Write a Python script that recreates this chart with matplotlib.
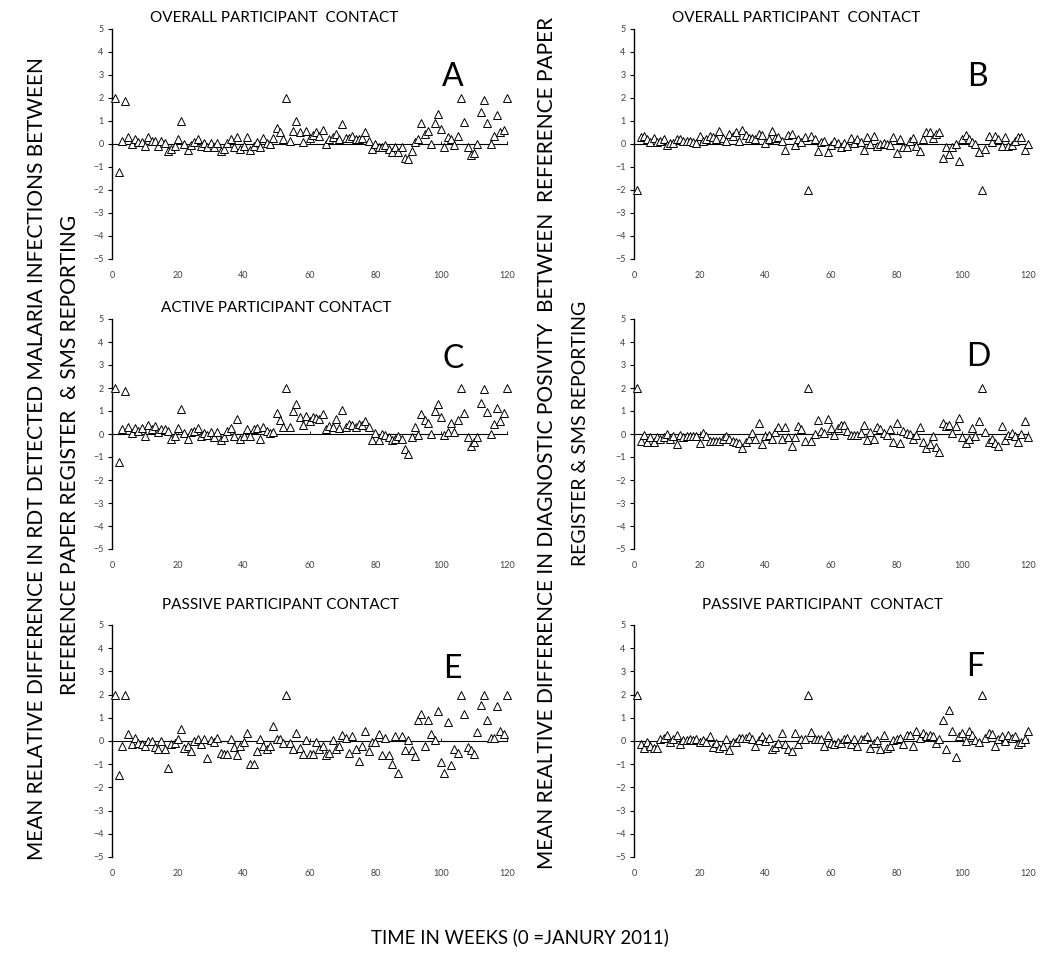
import numpy as np
import matplotlib
matplotlib.use("Agg")
from matplotlib import pyplot as plt

plt.rcParams['font.family'] = ['Lato', 'DejaVu Sans']

W, H = 1041, 964

# week numbers 1..120
# A: RDT detected malaria, overall contact
a_vals = [2.0, -1.2, 0.15, 1.85, 0.3, 0.0, 0.2, 0.1, 0.1, -0.1,
          0.3, 0.15, 0.15, -0.1, 0.15, 0.05, -0.3, -0.2, -0.1, 0.2,
          1.0, 0.0, -0.25, -0.05, 0.1, 0.2, -0.1, 0.05, -0.15, 0.05,
          -0.15, 0.05, -0.3, -0.2, 0.05, 0.2, -0.15, 0.3, -0.2, -0.1,
          0.3, -0.25, -0.1, 0.1, -0.15, 0.25, 0.05, 0.0, 0.25, 0.7,
          0.5, 0.2, 2.0, 0.15, 0.55, 1.0, 0.5, 0.1, 0.55, 0.25,
          0.4, 0.5, 0.35, 0.6, 0.0, 0.2, 0.3, 0.45, 0.2, 0.85,
          0.25, 0.25, 0.35, 0.2, 0.2, 0.25, 0.5, 0.15, -0.2, 0.0,
          -0.15, -0.15, -0.05, -0.2, -0.35, -0.15, -0.35, -0.15, -0.6, -0.65,
          -0.3, 0.1, 0.2, 0.9, 0.45, 0.55, 0.0, 0.9, 1.3, 0.65,
          -0.15, 0.3, 0.2, -0.05, 0.35, 2.0, 0.95, -0.15, -0.5, -0.4,
          0.0, 1.4, 1.9, 0.9, 0.0, 0.35, 1.25, 0.5, 0.6, 2.0]

# B: diagnostic positivity, overall contact
b_vals = [-2.0, 0.3, 0.35, 0.2, 0.1, 0.25, 0.1, 0.15, 0.2, -0.05,
          0.05, 0.05, 0.2, 0.2, 0.15, 0.15, 0.15, 0.1, 0.05, 0.35,
          0.15, 0.2, 0.35, 0.3, 0.2, 0.55, 0.25, 0.15, 0.45, 0.35,
          0.5, 0.15, 0.6, 0.4, 0.25, 0.25, 0.2, 0.45, 0.4, 0.05,
          0.2, 0.55, 0.25, 0.3, 0.15, -0.25, 0.4, 0.45, -0.05, 0.2,
          0.1, 0.3, -2.0, 0.35, 0.2, -0.3, 0.1, 0.15, -0.35, -0.05,
          0.15, 0.05, -0.15, 0.05, -0.1, 0.25, 0.05, 0.2, 0.1, -0.25,
          0.3, 0.0, 0.35, -0.1, 0.0, 0.05, 0.0, -0.05, 0.3, -0.4,
          0.2, -0.15, -0.15, 0.15, 0.25, -0.1, -0.3, 0.2, 0.5, 0.5,
          0.25, 0.45, 0.5, -0.6, -0.15, -0.45, -0.15, 0.0, -0.75, 0.2,
          0.4, 0.2, 0.1, 0.0, -0.35, -2.0, -0.2, 0.35, 0.1, 0.35,
          0.2, -0.1, 0.3, -0.1, -0.05, 0.15, 0.3, 0.3, -0.25, 0.0]

# C: RDT detected malaria, active contact
c_vals = [2.0, -1.2, 0.2, 1.85, 0.3, 0.05, 0.25, 0.15, 0.25, -0.1,
          0.4, 0.2, 0.35, 0.1, 0.2, 0.2, 0.15, -0.2, -0.1, 0.25,
          1.1, 0.05, -0.2, 0.1, 0.15, 0.25, -0.1, 0.05, -0.05, 0.1,
          -0.15, 0.1, -0.25, -0.15, 0.15, 0.25, -0.1, 0.65, -0.2, -0.1,
          0.2, -0.1, 0.2, 0.25, -0.2, 0.3, 0.15, 0.05, 0.1, 0.9,
          0.6, 0.3, 2.0, 0.3, 1.0, 1.3, 0.75, 0.4, 0.8, 0.55,
          0.75, 0.7, 0.65, 0.85, 0.2, 0.35, 0.3, 0.65, 0.25, 1.05,
          0.3, 0.45, 0.4, 0.3, 0.45, 0.4, 0.55, 0.3, -0.25, 0.05,
          -0.25, 0.0, -0.05, -0.15, -0.25, -0.2, -0.1, -0.2, -0.65, -0.85,
          -0.15, 0.3, -0.05, 0.85, 0.6, 0.5, 0.0, 1.0, 1.3, 0.75,
          -0.05, 0.1, 0.5, 0.1, 0.6, 2.0, 0.9, -0.15, -0.5, -0.35,
          -0.15, 1.35, 1.95, 0.95, 0.0, 0.45, 1.15, 0.55, 0.9, 2.0]

# D: diagnostic positivity, active contact
d_vals = [2.0, -0.3, -0.05, -0.35, -0.15, -0.35, -0.15, -0.2, -0.15, 0.0,
          -0.2, -0.1, -0.45, -0.05, -0.15, -0.1, -0.1, -0.1, -0.1, -0.4,
          0.05, -0.1, -0.3, -0.3, -0.3, -0.3, -0.2, -0.1, -0.2, -0.3,
          -0.35, -0.4, -0.6, -0.35, -0.2, 0.05, -0.2, 0.5, -0.45, -0.1,
          -0.05, -0.2, 0.1, 0.3, -0.2, 0.3, -0.15, -0.5, -0.15, 0.35,
          0.2, -0.3, 2.0, -0.3, 0.0, 0.6, 0.15, 0.05, 0.65, 0.25,
          -0.05, 0.25, 0.4, 0.4, 0.15, -0.05, -0.05, -0.05, 0.05, 0.4,
          -0.25, 0.1, -0.2, 0.3, 0.2, 0.05, -0.05, 0.2, -0.35, 0.5,
          -0.4, 0.15, 0.05, 0.0, -0.2, -0.05, 0.3, -0.35, -0.6, -0.45,
          -0.1, -0.55, -0.8, 0.5, 0.35, 0.4, 0.05, 0.35, 0.7, -0.15,
          -0.4, -0.2, 0.25, -0.1, 0.55, 2.0, 0.1, -0.35, -0.2, -0.4,
          -0.5, 0.35, -0.25, -0.05, 0.05, -0.1, -0.35, 0.0, 0.55, -0.15]

# E: RDT detected malaria, passive contact
e_vals = [2.0, -1.45, -0.2, 2.0, 0.3, -0.15, 0.15, -0.1, -0.15, -0.2,
          0.0, 0.0, -0.25, -0.35, 0.0, -0.35, -1.15, -0.15, -0.1, 0.1,
          0.5, -0.3, -0.2, -0.45, 0.0, 0.1, -0.15, 0.1, -0.75, 0.05,
          -0.05, 0.15, -0.5, -0.55, -0.55, 0.1, -0.25, -0.6, -0.2, -0.05,
          0.35, -1.0, -1.0, -0.45, 0.1, -0.2, -0.35, -0.2, 0.65, 0.1,
          0.1, -0.1, 2.0, -0.1, -0.35, 0.35, -0.3, -0.55, 0.05, -0.55,
          -0.55, -0.05, -0.35, -0.2, -0.6, -0.5, 0.05, -0.35, -0.2, 0.25,
          0.15, -0.5, 0.2, -0.35, -0.85, -0.2, 0.45, -0.45, -0.05, -0.05,
          0.3, -0.6, 0.15, -0.6, -1.0, 0.2, -1.4, 0.2, -0.4, 0.05,
          -0.4, -0.65, 0.9, 1.15, -0.2, 0.9, 0.3, 0.05, 1.3, -0.9,
          -1.4, 0.8, -1.05, -0.35, -0.5, 2.0, 1.15, -0.25, -0.4, -0.55,
          0.4, 1.55, 2.0, 0.9, 0.15, 0.15, 1.5, 0.45, 0.3, 2.0]

# F: diagnostic positivity, passive contact
f_vals = [2.0, -0.15, -0.3, -0.05, -0.2, -0.3, -0.3, 0.1, 0.15, 0.25,
          -0.05, 0.1, 0.25, -0.15, 0.05, 0.05, 0.1, 0.05, 0.1, -0.05,
          0.05, -0.05, 0.2, -0.25, -0.1, -0.3, -0.2, 0.1, -0.4, -0.05,
          -0.05, 0.15, 0.15, 0.15, 0.2, 0.1, -0.2, 0.05, 0.2, 0.0,
          0.15, -0.35, -0.25, -0.1, 0.35, -0.15, -0.35, -0.45, 0.35, -0.15,
          0.1, 0.1, 2.0, 0.4, 0.1, 0.1, 0.1, -0.2, 0.25, -0.1,
          -0.15, -0.05, -0.1, 0.1, 0.15, -0.15, 0.1, -0.2, 0.1, 0.1,
          0.2, -0.3, -0.1, 0.05, -0.35, 0.25, -0.3, -0.2, 0.05, 0.1,
          0.15, -0.15, 0.25, 0.25, -0.2, 0.45, 0.15, 0.35, 0.2, 0.25,
          0.2, -0.1, 0.1, 0.9, -0.35, 1.35, 0.45, -0.7, 0.2, 0.35,
          0.0, 0.45, 0.25, 0.05, -0.05, 2.0, 0.15, 0.35, 0.3, -0.2,
          0.1, 0.2, 0.0, 0.25, 0.15, 0.2, -0.15, -0.05, 0.1, 0.45]

panel_letters = ["A", "B", "C", "D", "E", "F"]
panel_titles = ["OVERALL PARTICIPANT  CONTACT", "OVERALL PARTICIPANT  CONTACT",
                "ACTIVE PARTICIPANT CONTACT", "",
                "PASSIVE PARTICIPANT CONTACT", "PASSIVE PARTICIPANT  CONTACT"]
x_ticks = [0, 20, 40, 60, 80, 100, 120]
y_ticks = [5, 4, 3, 2, 1, 0, -1, -2, -3, -4, -5]


def fx(px):
    return px / W


def fy(py):
    return 1 - py / H


fig = plt.figure(figsize=(W / 100, H / 100), dpi=100)
fig.patch.set_facecolor("white")

# pixel boxes: (x_left, x_right, y_top, y_bottom)
boxes = [(112, 507, 29, 259), (634, 1028, 29, 259),
         (112, 507, 319, 549), (634, 1028, 319, 549),
         (112, 507, 625, 857), (634, 1028, 625, 857)]
letter_pos = [(453, 77), (977, 77), (453, 359), (978, 357), (452, 669), (975, 667)]
title_pos = [(274, 18), (796, 18), (276, 308), (0, 0), (281, 605), (822, 605)]

series = [a_vals, b_vals, c_vals, d_vals, e_vals, f_vals]

for i, vals in enumerate(series):
    x0, x1, yt, yb = boxes[i]
    ax = fig.add_axes([fx(x0), fy(yb), (x1 - x0) / W, (yb - yt) / H])
    weeks = np.arange(1, len(vals) + 1)
    ax.plot(weeks, vals, linestyle="none", marker="^", markersize=5.5,
            markerfacecolor="white", markeredgecolor="black", markeredgewidth=0.7,
            clip_on=False, zorder=3)
    ax.set_xlim(0, 120)
    ax.set_ylim(-5, 5)
    ax.set_yticks(y_ticks)
    ax.set_xticks(x_ticks)
    for s in ["top", "right", "bottom"]:
        ax.spines[s].set_visible(False)
    ax.spines["left"].set_linewidth(1.0)
    ax.tick_params(axis="y", length=3, width=0.8, labelsize=6.5, labelcolor="#404040", pad=3)
    ax.tick_params(axis="x", length=0, labelsize=6.5, labelcolor="#404040", pad=9)
    ax.patch.set_alpha(0)

    # horizontal axis crossing at zero (ticks only, labels stay at the bottom)
    zero = ax.secondary_xaxis(0.5)
    zero.set_xticks(x_ticks)
    zero.set_xticklabels([])
    zero.tick_params(length=2.5, width=0.6)
    zero.spines["bottom"].set_linewidth(1.0)

    fig.text(fx(letter_pos[i][0]), fy(letter_pos[i][1]), panel_letters[i],
             fontsize=23, ha="center", va="center")
    if panel_titles[i]:
        fig.text(fx(title_pos[i][0]), fy(title_pos[i][1]), panel_titles[i],
                 fontsize=11, ha="center", va="center")

# axis labels
fig.text(fx(37), fy(459), "MEAN RELATIVE DIFFERENCE IN RDT DETECTED MALARIA INFECTIONS BETWEEN",
         rotation=90, fontsize=15, ha="center", va="center")
fig.text(fx(70), fy(455), "REFERENCE PAPER REGISTER  & SMS REPORTING",
         rotation=90, fontsize=15, ha="center", va="center")
fig.text(fx(547), fy(443), "MEAN REALTIVE DIFFERENCE IN DIAGNOSTIC POSIVITY  BETWEEN  REFERENCE PAPER",
         rotation=90, fontsize=15, ha="center", va="center")
fig.text(fx(580), fy(433), "REGISTER & SMS REPORTING",
         rotation=90, fontsize=14, ha="center", va="center")
fig.text(fx(520), fy(937), "TIME IN WEEKS (0 =JANURY 2011)",
         fontsize=13.4, ha="center", va="center")

fig.savefig("out.png", dpi=100, facecolor="white")
